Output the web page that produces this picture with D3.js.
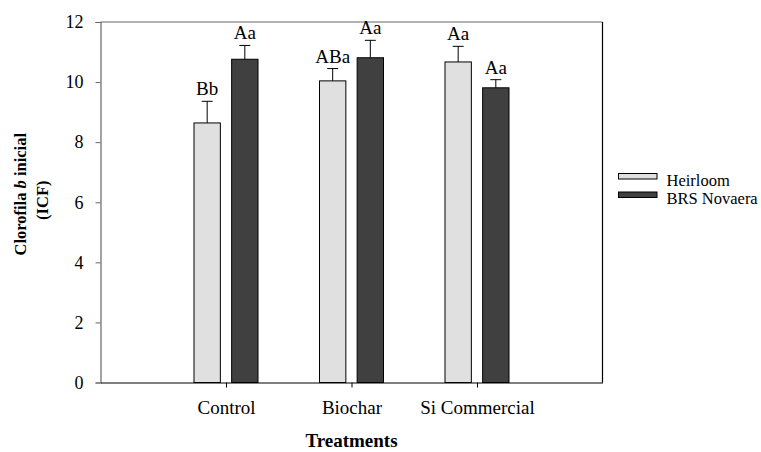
<!DOCTYPE html>
<html><head><meta charset="utf-8">
<script src="https://cdn.jsdelivr.net/npm/d3@7"></script>
<style>body{margin:0;background:#fff}svg{display:block}svg text{font-family:"Liberation Serif","Times New Roman",Tinos,"DejaVu Serif",serif !important}</style>
</head><body><svg id="c" width="761" height="452" font-family="Liberation Serif, serif"></svg>
<script>
const categories = ["Control", "Biochar", "Si Commercial"];
const seriesNames = ["Heirloom", "BRS Novaera"];
const heirloom = [8.64, 10.04, 10.67];
const novaera = [10.76, 10.81, 9.81];
const heirloomErr = [0.72, 0.41, 0.52];
const novaeraErr = [0.46, 0.58, 0.27];
const heirloomLabels = ["Bb", "ABa", "Aa"];
const novaeraLabels = ["Aa", "Aa", "Aa"];
const yTicks = [0, 2, 4, 6, 8, 10, 12];
const colors = ["#e0e0e0", "#404040"];

const svg = d3.select("#c");
const L = 100.5, R = 602.5, T = 22, B = 382.5;
const x = d3.scaleLinear().domain([0, 4]).range([L, R]);
const y = d3.scaleLinear().domain([0, 12]).range([B, T]);
const barW = 0.21, off = 0.15;
const FF = "Liberation Serif";

const series = [
  {vals: heirloom, errs: heirloomErr, labs: heirloomLabels, dx: -off, color: colors[0]},
  {vals: novaera, errs: novaeraErr, labs: novaeraLabels, dx: off, color: colors[1]}
];

// frame top/right
svg.append("line").attr("x1", L).attr("x2", R).attr("y1", T).attr("y2", T).attr("stroke", "#666").attr("stroke-width", 1.2);
svg.append("line").attr("x1", R).attr("x2", R).attr("y1", T).attr("y2", B).attr("stroke", "#000").attr("stroke-width", 1.2);

series.forEach(s => {
  const g = svg.append("g");
  s.vals.forEach((v, i) => {
    const cx = x(i + 1 + s.dx);
    const x0 = x(i + 1 + s.dx - barW / 2), x1 = x(i + 1 + s.dx + barW / 2);
    g.append("line").attr("x1", cx).attr("x2", cx).attr("y1", y(v)).attr("y2", y(v + s.errs[i])).attr("stroke", "#000").attr("stroke-width", 1);
    g.append("line").attr("x1", cx - 5.5).attr("x2", cx + 5.5).attr("y1", y(v + s.errs[i])).attr("y2", y(v + s.errs[i])).attr("stroke", "#000").attr("stroke-width", 1);
    g.append("rect").attr("x", x0).attr("y", y(v)).attr("width", x1 - x0).attr("height", y(0) - y(v))
      .attr("fill", s.color).attr("stroke", "#000").attr("stroke-width", 1);
    g.append("text").attr("x", cx).attr("y", y(v + s.errs[i]) - 6).attr("text-anchor", "middle")
      .attr("font-family", FF).attr("font-size", 19).text(s.labs[i]);
  });
});

// y axis
const yAxis = d3.axisLeft(y).tickValues(yTicks).tickSize(5).tickPadding(12);
const gy = svg.append("g").attr("transform", `translate(${L},0)`).call(yAxis).attr("font-family", FF);
gy.select(".domain").attr("stroke", "#666").attr("stroke-width", 1.2);
gy.selectAll(".tick line").attr("stroke", "#666");
gy.selectAll(".tick text").attr("font-size", 18).attr("fill", "#000");

// x axis
const xAxis = d3.axisBottom(x).tickValues([1, 2, 3]).tickFormat((d) => categories[d - 1]).tickSize(5).tickSizeOuter(0).tickPadding(13);
const gx = svg.append("g").attr("transform", `translate(0,${B})`).call(xAxis).attr("font-family", FF);
gx.select(".domain").attr("stroke", "#000").attr("stroke-width", 1.2);
gx.selectAll(".tick line").attr("stroke", "#000");
gx.selectAll(".tick text").attr("font-size", 19).attr("fill", "#000");

// axis titles
svg.append("text").attr("x", (L + R) / 2).attr("y", 447).attr("text-anchor", "middle")
  .attr("font-family", FF).attr("font-size", 19).attr("font-weight", "bold").text("Treatments");
const yl = svg.append("text").attr("transform", `translate(26,${(T + B) / 2 - 8}) rotate(-90)`).attr("text-anchor", "middle")
  .attr("font-family", FF).attr("font-size", 16.5).attr("font-weight", "bold");
yl.append("tspan").text("Clorofila ");
yl.append("tspan").attr("font-style", "italic").text("b");
yl.append("tspan").text(" inicial");
svg.append("text").attr("transform", `translate(48,${(T + B) / 2 - 2}) rotate(-90)`).attr("text-anchor", "middle")
  .attr("font-family", FF).attr("font-size", 16.5).attr("font-weight", "bold").text("(ICF)");

// legend
const lg = svg.append("g");
seriesNames.forEach((n, i) => {
  lg.append("rect").attr("x", 618.5).attr("y", 173.5 + i * 18.5).attr("width", 38.5).attr("height", 5.5)
    .attr("fill", colors[i]).attr("stroke", "#000").attr("stroke-width", 1);
  lg.append("text").attr("x", 666.5).attr("y", 185.5 + i * 18.3).attr("font-family", FF).attr("font-size", 16.5).text(n);
});
</script></body></html>
